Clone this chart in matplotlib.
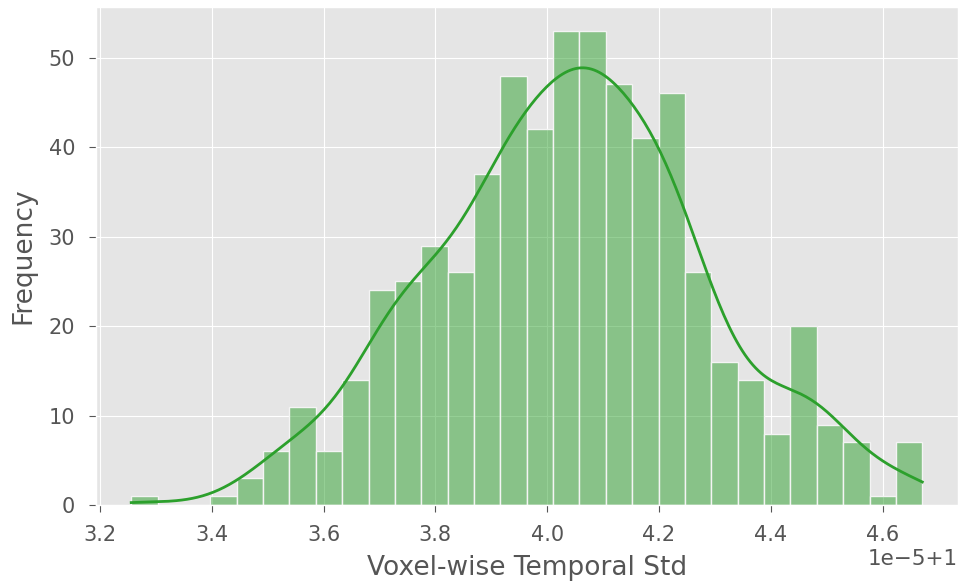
"""Histogram of voxel-wise temporal std with a KDE overlay."""
import numpy as np
import matplotlib
matplotlib.use("Agg")
import matplotlib.pyplot as plt
from matplotlib.colors import to_rgba

# --- Data (30 equal bins) ---
X_MIN = 1 + 3.256e-5
X_MAX = 1 + 4.671e-5
N_BINS = 30
COUNTS = [1, 0, 0, 1, 3, 6, 11, 6, 14, 24,
          25, 29, 26, 37, 48, 42, 53, 53, 47, 41,
          46, 26, 16, 14, 8, 20, 9, 7, 1, 7]

# axis range as shown
XLIM = (1 + 3.193e-5, 1 + 4.735e-5)

GREEN = "#2ca02c"


def kde_curve(centers, counts, grid):
    """Gaussian KDE (Scott bandwidth) of the binned sample, scaled to density."""
    sample = np.repeat(centers, counts)
    n = sample.size
    bw = sample.std(ddof=1) * n ** (-1 / 5)
    z = (grid[:, None] - sample[None, :]) / bw
    dens = np.exp(-0.5 * z ** 2).sum(axis=1) / (n * bw * np.sqrt(2 * np.pi))
    return dens


def main():
    plt.style.use("ggplot")

    edges = np.linspace(X_MIN, X_MAX, N_BINS + 1)
    widths = np.diff(edges)
    centers = edges[:-1] + widths / 2
    counts = np.array(COUNTS)

    fig, ax = plt.subplots(figsize=(9.6, 5.86), dpi=100)
    fig.subplots_adjust(left=0.1, right=0.998, top=0.988, bottom=0.138)

    ax.bar(edges[:-1], counts, width=widths, align="edge",
           facecolor=to_rgba(GREEN, 0.5), edgecolor="#f4f4f4", linewidth=1.0)

    grid = np.linspace(X_MIN, X_MAX, 300)
    dens = kde_curve(centers, counts, grid)
    ax.plot(grid, dens * counts.sum() * widths[0], color=GREEN, linewidth=2.0)

    ax.set_xlabel("Voxel-wise Temporal Std", fontsize=19, color="#555555",
                  labelpad=7)
    ax.set_ylabel("Frequency", fontsize=19, color="#555555", labelpad=9)
    ax.tick_params(labelsize=15, colors="#555555", length=5)
    ax.tick_params(axis="x", pad=9.5)
    ax.tick_params(axis="y", pad=10)
    ax.xaxis.get_offset_text().set_fontsize(15.5)
    ax.xaxis.get_offset_text().set_color("#555555")
    ax.set_xlim(*XLIM)
    ax.set_ylim(0, None)

    fig.savefig("out.png", dpi=100, facecolor="white")
    plt.close(fig)


if __name__ == "__main__":
    main()
